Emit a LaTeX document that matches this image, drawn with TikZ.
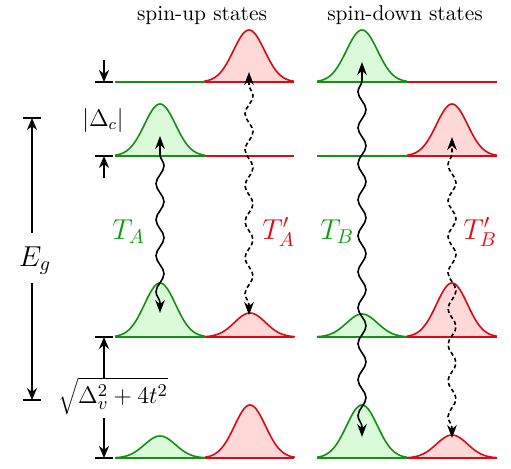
\documentclass[tikz,border=0pt]{standalone}
\usetikzlibrary{arrows.meta,decorations.pathmorphing}
\definecolor{gline}{RGB}{20,145,20}
\definecolor{gfill}{RGB}{218,250,218}
\definecolor{rline}{RGB}{220,10,20}
\definecolor{rfill}{RGB}{255,216,216}
\definecolor{gtext}{RGB}{10,160,10}
\definecolor{rtext}{RGB}{225,10,20}
\newcommand\gaussbump[4]{%
  \fill[#4fill] plot[domain=-45:45,samples=61] ({#1+\x},{#2-#3*exp(-(\x*\x)/480.5)}) -- cycle;
  \draw[#4line,line width=0.8pt] plot[domain=-45:45,samples=61] ({#1+\x},{#2-#3*exp(-(\x*\x)/480.5)});
}
\tikzset{
  levelg/.style={gline,line width=1pt},
  levelr/.style={rline,line width=1pt},
  dim/.style={black,line width=1pt,-{Stealth[length=6pt,width=5pt]}},
  bar/.style={black,line width=1pt},
  wave/.style={black,line width=0.8pt,{Stealth[length=6.5pt,width=4.8pt]}-{Stealth[length=6.5pt,width=4.8pt]},
    decorate,decoration={snake,amplitude=2pt,segment length=18pt,pre length=5pt,post length=5pt}},
  dwave/.style={wave,dash pattern=on 2pt off 1.4pt},
  title/.style={font=\fontsize{10.7}{13}\selectfont},
  lab/.style={font=\Large},
}
\begin{document}
\begin{tikzpicture}[x=0.5pt,y=-0.5pt]
\useasboundingbox (0,0) rectangle (511,468);
% titles
\node[title,anchor=base] (tu) at (202,20) {spin-up states};
\node[title,anchor=base] (td) at (405,20) {spin-down states};
% gaussians spin-up
\gaussbump{249}{82}{52}{r}
\gaussbump{160}{156}{52}{g}
\gaussbump{160}{337}{54}{g}
\gaussbump{250}{337}{24}{r}
\gaussbump{160}{458}{22}{g}
\gaussbump{250}{458}{53}{r}
% gaussians spin-down
\gaussbump{362}{82}{52}{g}
\gaussbump{452}{156}{52}{r}
\gaussbump{362}{337}{23}{g}
\gaussbump{452}{337}{54}{r}
\gaussbump{362}{458}{53}{g}
\gaussbump{452}{458}{23}{r}
% level lines
\foreach \y in {82,156,337,458}{
  \draw[levelg] (115,\y) -- (205,\y);
  \draw[levelr] (205,\y) -- (294,\y);
  \draw[levelg] (317,\y) -- (407,\y);
  \draw[levelr] (407,\y) -- (497,\y);
}
% wavy transitions
\coordinate (ta1) at (160,313); \coordinate (ta2) at (160,136);
\coordinate (tpa1) at (249,315); \coordinate (tpa2) at (249,72);
\coordinate (tb1) at (362,437); \coordinate (tb2) at (362,62);
\coordinate (tpb1) at (452,438); \coordinate (tpb2) at (452,137);
\draw[wave] (ta1) -- (ta2);
\draw[dwave] (tpa1) -- (tpa2);
\draw[wave] (tb1) -- (tb2);
\draw[dwave] (tpb1) -- (tpb2);
% labels
\node[lab,text=gtext,anchor=base west,inner sep=0pt] (la) at (112,239) {$T_A$};
\node[lab,text=rtext,anchor=base west,inner sep=0pt] (lpa) at (262,239) {$T'_A$};
\node[lab,text=gtext,anchor=base west,inner sep=0pt] (lb) at (320,239) {$T_B$};
\node[lab,text=rtext,anchor=base west,inner sep=0pt] (lpb) at (463,239) {$T'_B$};
% Delta_c
\coordinate (dc1) at (104,82); \coordinate (dc2) at (104,156);
\draw[bar] (95,82) -- (113,82);
\draw[bar] (95,156) -- (113,156);
\coordinate (dca) at (104,60); \coordinate (dcb) at (104,178);
\draw[dim] (dca) -- (dc1);
\draw[dim] (dcb) -- (dc2);
\node[font=\fontsize{11.5}{13}\selectfont,inner sep=1pt] (ldc) at (103,120) {$|\Delta_c|$};
% E_g
\draw[bar] (23,118) -- (41,118);
\draw[bar] (23,400) -- (41,400);
\coordinate (eg1) at (32,118); \coordinate (eg2) at (32,400);
\node[lab,anchor=base] (leg) at (35,266) {$E_g$};
\coordinate (ega) at (32,233); \coordinate (egb) at (32,283);
\draw[dim] (ega) -- (eg1);
\draw[dim] (egb) -- (eg2);
% sqrt
\draw[bar] (95,337) -- (113,337);
\draw[bar] (95,458) -- (113,458);
\coordinate (sq1) at (104,337); \coordinate (sq2) at (104,458);
\coordinate (sqa) at (104,378); \coordinate (sqb) at (104,418);
\draw[dim] (sqa) -- (sq1);
\draw[dim] (sqb) -- (sq2);
\node[font=\fontsize{12.5}{14}\selectfont,inner sep=1pt] (lsq) at (113,396) {$\sqrt{\Delta_v^2+4t^2}$};
\end{tikzpicture}
\end{document}
